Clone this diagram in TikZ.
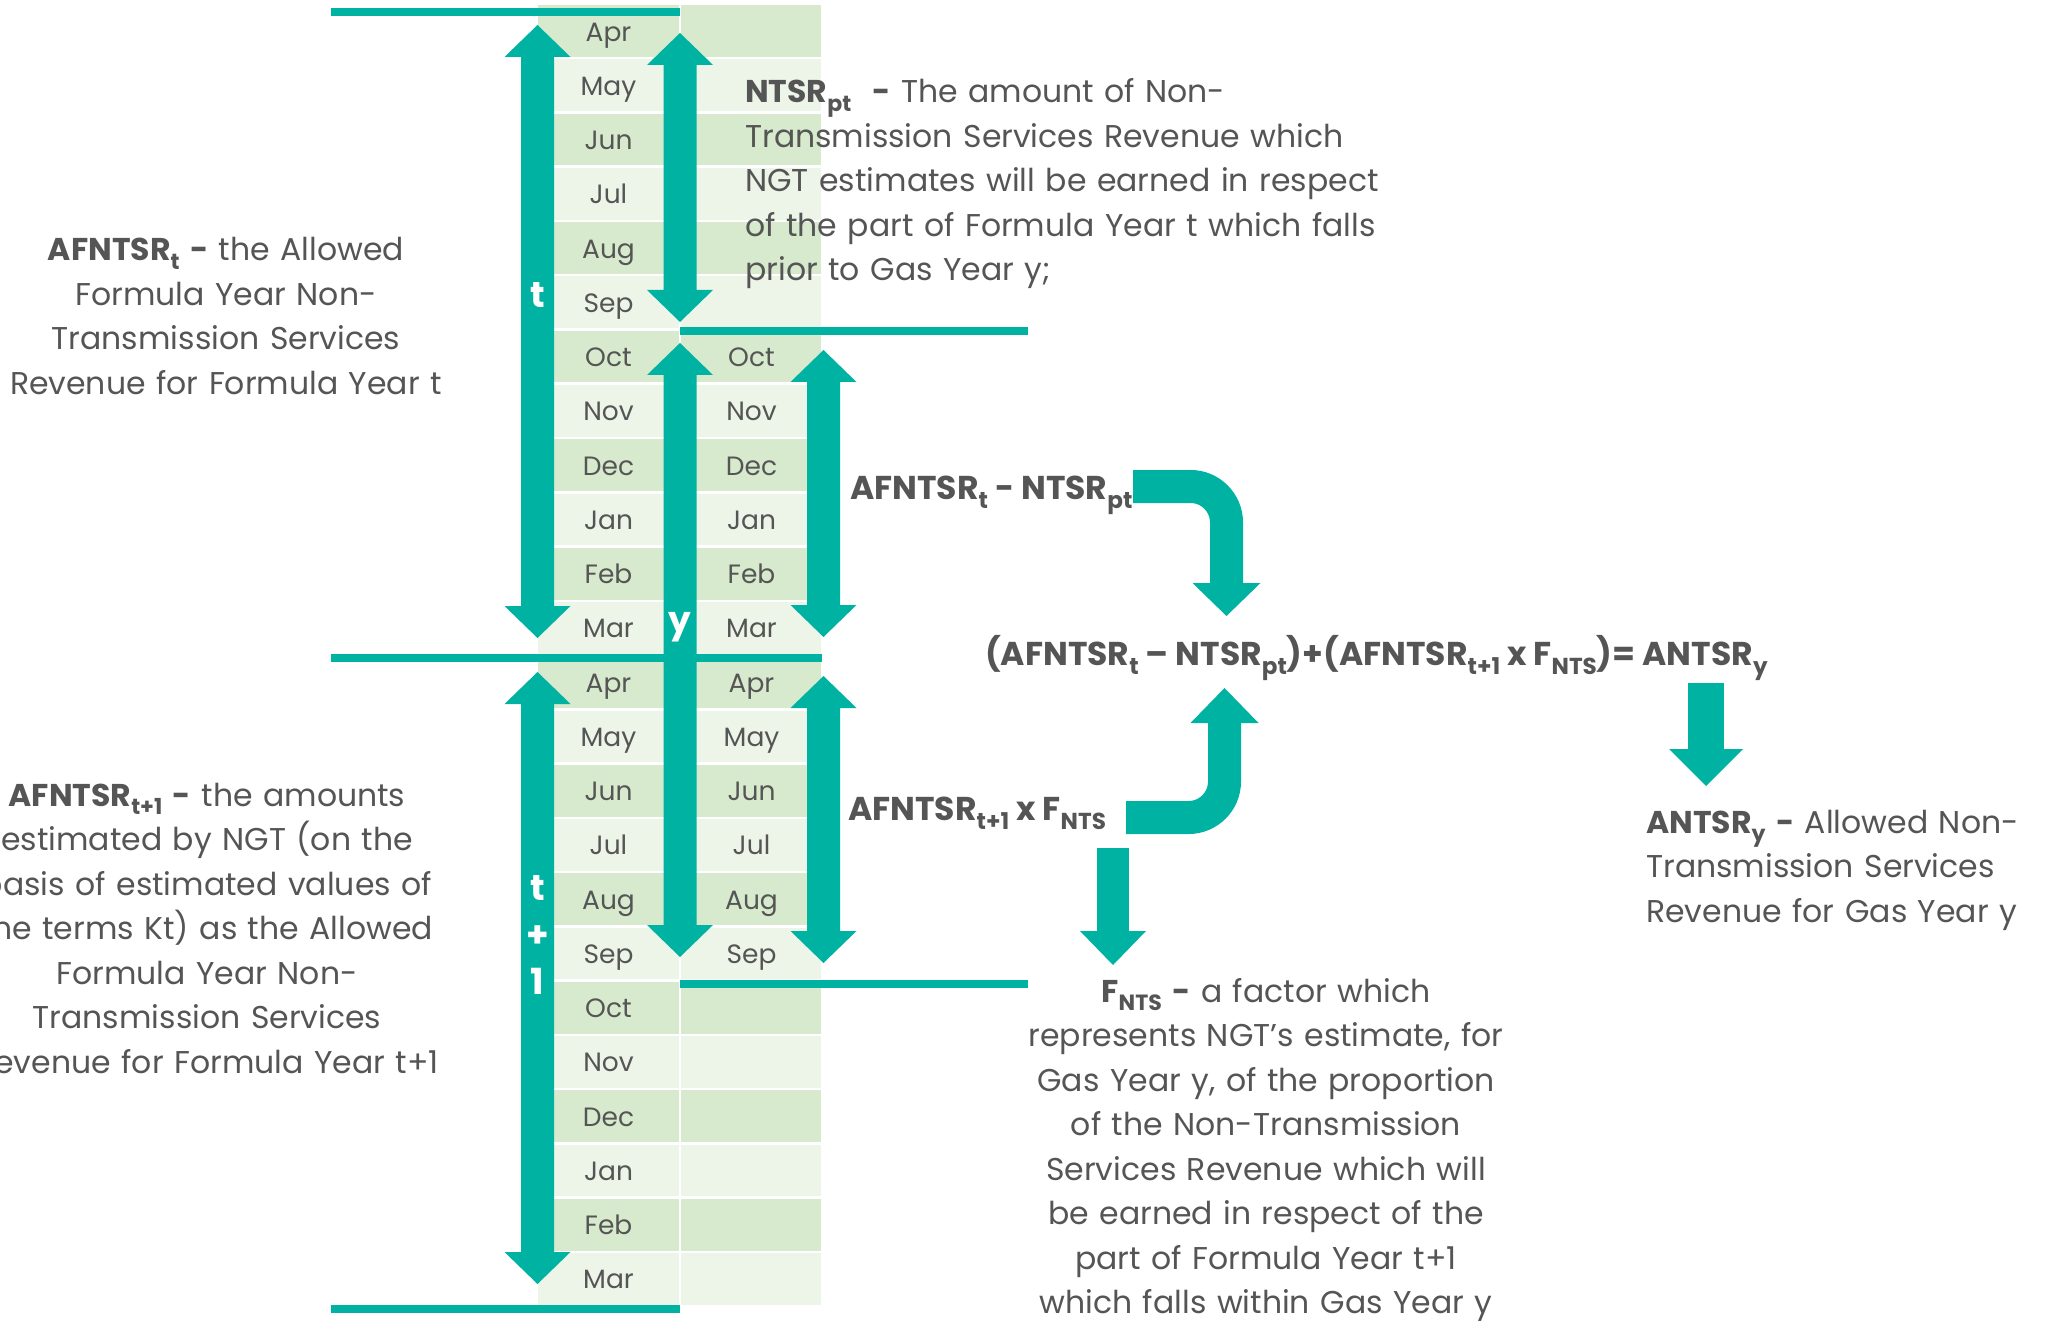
\documentclass[tikz,border=0pt]{standalone}
\usepackage{fontspec}
\setmainfont{Poppins}
\definecolor{teal0}{HTML}{00B2A2}
\definecolor{cellA}{HTML}{D7EACD}
\definecolor{cellB}{HTML}{ECF5E8}
\definecolor{txt}{HTML}{555555}
\newcommand{\sbx}[1]{\raisebox{-0.28em}{\scalebox{0.7}{#1}}}
% vertical double block arrow: x centre, top tip, bottom tip
\newcommand{\vdarrow}[3]{%
  \fill[teal0] (#1,#2) -- ({#1+33},{#2+32}) -- ({#1+16.5},{#2+32}) -- ({#1+16.5},{#3-32})
    -- ({#1+33},{#3-32}) -- (#1,#3) -- ({#1-33},{#3-32}) -- ({#1-16.5},{#3-32})
    -- ({#1-16.5},{#2+32}) -- ({#1-33},{#2+32}) -- cycle;}
\begin{document}
\begin{tikzpicture}[x=1pt,y=-1pt,
  body/.style={text=txt,font=\fontsize{31.5}{44.5}\selectfont,inner sep=0pt},
  flbl/.style={text=txt,font=\fontsize{33}{40}\selectfont\bfseries,inner sep=0pt,anchor=base west},
  month/.style={text=txt,font=\fontsize{26.5}{30}\selectfont,inner sep=0pt,anchor=base},
  arrlbl/.style={text=white,font=\fontsize{36}{47}\selectfont\bfseries,inner sep=0pt,align=center},
  bar/.style={teal0,line width=8pt},
  bent/.style={teal0,line width=33pt,rounded corners=36pt}]
\useasboundingbox (0,0) rectangle (2051,1321);
\clip (0,0) rectangle (2051,1321);
% cells
\foreach \k in {0,...,23}{
  \pgfmathsetmacro{\ya}{4+\k*54.25+1.25}
  \pgfmathsetmacro{\yb}{4+(\k+1)*54.25-1.25}
  \pgfmathtruncatemacro{\prty}{mod(\k,2)}
  \ifnum\prty=0 \def\cc{cellA}\else\def\cc{cellB}\fi
  \fill[\cc] (538,\ya) rectangle (679,\yb);
  \fill[\cc] (681,\ya) rectangle (821,\yb);
}
% month labels
\foreach \m [count=\i from 0] in {Apr,May,Jun,Jul,Aug,Sep,Oct,Nov,Dec,Jan,Feb,Mar,Apr,May,Jun,Jul,Aug,Sep,Oct,Nov,Dec,Jan,Feb,Mar}{
  \pgfmathsetmacro{\yc}{4+(\i+0.5)*54.25+10}
  \node[month] (mL\i) at (608.5,\yc) {\m};
  \ifnum\i>5 \ifnum\i<18
    \node[month] (mR\i) at (751.5,\yc) {\m};
  \fi\fi
}
% horizontal bars
\coordinate (b1a) at (331,12);   \coordinate (b1b) at (680,12);
\coordinate (b2a) at (680,331);  \coordinate (b2b) at (1028,331);
\coordinate (b3a) at (331,658);  \coordinate (b3b) at (822,658);
\coordinate (b4a) at (680,984);  \coordinate (b4b) at (1028,984);
\coordinate (b5a) at (331,1309); \coordinate (b5b) at (680,1309);
\draw[bar] (b1a) -- (b1b);
\draw[bar] (b2a) -- (b2b);
\draw[bar] (b3a) -- (b3b);
\draw[bar] (b4a) -- (b4b);
\draw[bar] (b5a) -- (b5b);
% double block arrows
\vdarrow{537.5}{25}{638}
\vdarrow{537.5}{672}{1284}
\vdarrow{680}{33}{322}
\vdarrow{680}{343}{957}
\vdarrow{823.5}{350}{637}
\vdarrow{823.5}{676}{963}
% arrow labels
\node[arrlbl] (lt) at (537.5,295) {t};
\node[arrlbl] (ly) at (680,627) {y};
\node[arrlbl] (lt1) at (537.5,935) {t\\+\\1};
% text blocks
\node[body,anchor=base,text width=540pt,align=center] (dA) at (226,261)
  {{\bfseries AFNTSR\sbx{t} -} the Allowed\\Formula Year Non-\\Transmission Services\\Revenue for Formula Year t};
\node[body,anchor=base,text width=560pt,align=center] (dB) at (207,806)
  {{\bfseries AFNTSR\sbx{t+1} -} the amounts\\estimated by NGT (on the\\basis of estimated values of\\the terms Kt) as the Allowed\\Formula Year Non-\\Transmission Services\\Revenue for Formula Year t+1};
\node[body,anchor=base west,text width=760pt,align=left] (dC) at (745,103)
  {{\bfseries NTSR\sbx{pt}\ \ -} The amount of Non-\\Transmission Services Revenue which\\NGT estimates will be earned in respect\\of the part of Formula Year t which falls\\prior to Gas Year y;};
\node[body,anchor=base,text width=620pt,align=center] (dD) at (1266,1002)
  {{\bfseries F\sbx{NTS} -} a factor which\\represents NGT’s estimate, for\\Gas Year y, of the proportion\\of the Non-Transmission\\Services Revenue which will\\be earned in respect of the\\part of Formula Year t+1\\which falls within Gas Year y};
\node[body,anchor=base west,text width=400pt,align=left] (dE) at (1646,833)
  {{\bfseries ANTSR\sbx{y} -} Allowed Non-\\Transmission Services\\Revenue for Gas Year y};
% formula labels
\node[flbl] (fa) at (850,499) {AFNTSR\sbx{t} - NTSR\sbx{pt}};
\node[flbl] (fb) at (848,820) {AFNTSR\sbx{t+1} x F\sbx{NTS}};
\node[flbl] (eq) at (985,665)
  {(AFNTSR\sbx{t} – NTSR\sbx{pt})+(AFNTSR\sbx{t+1} x F\sbx{NTS})= ANTSR\sbx{y}};
% bent arrows
\coordinate (ua0) at (1133,486.5);
\coordinate (ua1) at (1226.5,486.5);
\coordinate (ua2) at (1226.5,584);
\draw[bent] (ua0) -- (ua1) -- (ua2);
\fill[teal0] (1192.5,583) -- (1260.5,583) -- (1226.5,616) -- cycle;
\coordinate (la0) at (1126,817.5);
\coordinate (la1) at (1224.5,817.5);
\coordinate (la2) at (1224.5,722);
\draw[bent] (la0) -- (la1) -- (la2);
\fill[teal0] (1190.5,723) -- (1258.5,723) -- (1224.5,688) -- cycle;
% straight down arrows
\fill[teal0] (1097,848) rectangle (1129,932);
\fill[teal0] (1080,931) -- (1146,931) -- (1113,965) -- cycle;
\fill[teal0] (1688,683) rectangle (1724,750);
\fill[teal0] (1669,749) -- (1743,749) -- (1706,786) -- cycle;
\end{tikzpicture}
\end{document}
